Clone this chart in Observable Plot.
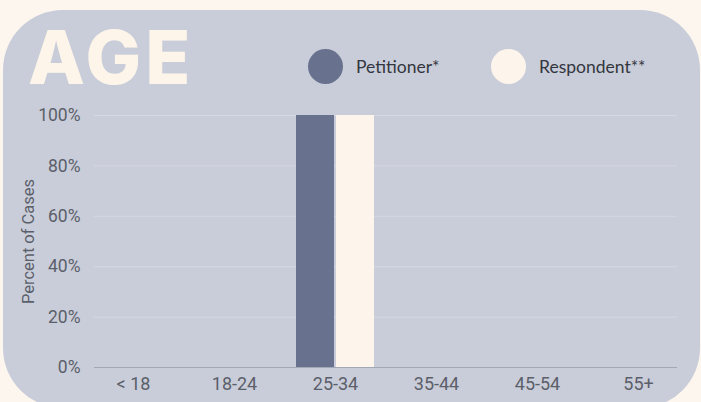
<!DOCTYPE html>
<html>
<head>
<meta charset="utf-8">
<script src="https://cdn.jsdelivr.net/npm/d3@7"></script>
<script src="https://cdn.jsdelivr.net/npm/@observablehq/plot@0.6"></script>
<style>
  html, body { margin: 0; padding: 0; }
  body { width: 701px; height: 402px; overflow: hidden; background: #fdf6ee; position: relative; font-family: Roboto, sans-serif; }
  #panel { position: absolute; left: 3px; top: 10px; width: 697px; height: 398px; background: #c9cdd9; border-radius: 60px; }
  #title { position: absolute; left: 28px; top: 20px; font-family: Inter, sans-serif; font-weight: 800; font-size: 74px; letter-spacing: 4px; color: #fdf5ea; line-height: 1; }
  .leg { position: absolute; top: 49px; display: flex; align-items: center; font-family: Lato, sans-serif; font-size: 17.5px; color: #33363e; }
  .leg .dot { width: 35px; height: 35px; border-radius: 50%; margin-right: 13px; }
  #chart { position: absolute; left: 0; top: 100px; }
  #chart svg { background: transparent; overflow: visible; }
</style>
</head>
<body>
<div id="panel"></div>
<div id="title">AGE</div>
<div id="legend"></div>
<div id="chart"></div>
<script>
const ageGroups = ["< 18", "18-24", "25-34", "35-44", "45-54", "55+"];
const petitioner = [0, 0, 1, 0, 0, 0];
const respondent = [0, 0, 1, 0, 0, 0];
const seriesNames = ["Petitioner*", "Respondent**"];
const seriesColors = ["#68728f", "#fdf5eb"];
const yTicks = [0, 0.2, 0.4, 0.6, 0.8, 1];

// legend
const legend = document.getElementById("legend");
const legX = [308, 491];
seriesNames.forEach((name, i) => {
  const d = document.createElement("div");
  d.className = "leg";
  d.style.left = legX[i] + "px";
  d.innerHTML = `<span class="dot" style="background:${seriesColors[i]}"></span><span>${name}</span>`;
  legend.appendChild(d);
});

const dataP = ageGroups.map((a, i) => ({age: a, value: petitioner[i]}));
const dataR = ageGroups.map((a, i) => ({age: a, value: respondent[i]}));

const chart = Plot.plot({
  width: 701,
  height: 302,
  marginTop: 15,
  marginBottom: 35,
  marginLeft: 94,
  marginRight: 24,
  style: {background: "transparent", fontFamily: "Roboto, sans-serif", fontSize: "17px", color: "#5b5f6a"},
  x: {domain: ageGroups, range: [70, 700], padding: 0.23, label: null, tickSize: 0, tickPadding: 10},
  y: {domain: [0, 1], ticks: yTicks, tickFormat: d => Math.round(d * 100) + "%", label: null, tickSize: 0, tickPadding: 14},
  marks: [
    Plot.ruleY(yTicks.filter(d => d > 0), {stroke: "#d5d8e2", strokeWidth: 1}),
    Plot.barY(dataP, {x: "age", y: "value", fill: seriesColors[0], insetRight: 40}),
    Plot.barY(dataR, {x: "age", y: "value", fill: seriesColors[1], insetLeft: 40}),
    Plot.ruleY([0], {stroke: "#a3a8b6", strokeWidth: 1.2}),
    Plot.axisY({ticks: yTicks, tickFormat: d => Math.round(d * 100) + "%", tickSize: 0, tickPadding: 14, label: null, fontSize: 17.5}),
    Plot.axisX({tickSize: 0, tickPadding: 10, label: null, fontSize: 18}),
    Plot.text(["Percent of Cases"], {frameAnchor: "left", textAnchor: "middle", dx: -66, rotate: -90, fontSize: 16.5, fill: "#5b5f6a"})
  ]
});
document.getElementById("chart").appendChild(chart);
</script>
</body>
</html>
